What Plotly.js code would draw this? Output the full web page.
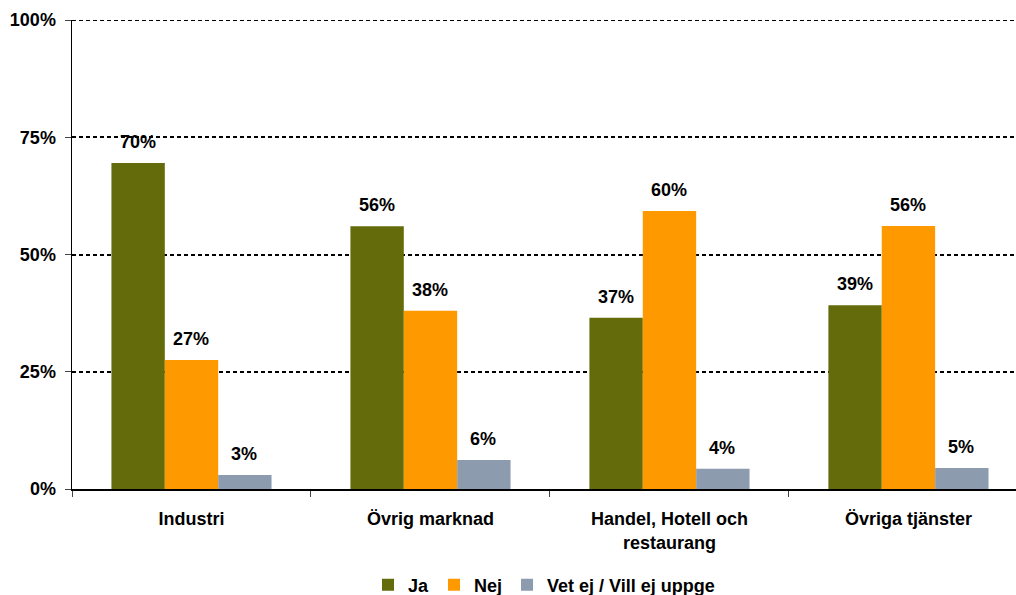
<!DOCTYPE html>
<html><head><meta charset="utf-8">
<script src="https://cdn.plot.ly/plotly-3.0.1.min.js"></script>
<style>html,body{margin:0;padding:0;background:#fff}#c{width:1016px;height:595px}</style>
</head><body><div id="c"></div>
<script>
const categories = ["Industri", "Övrig marknad", "Handel, Hotell och<br>restaurang", "Övriga tjänster"];
const seriesNames = ["Ja", "Nej", "Vet ej / Vill ej uppge"];
const ja  = [69.5, 56.0, 36.5, 39.2];
const nej = [27.5, 38.0, 59.3, 56.1];
const vet = [3.0, 6.2, 4.3, 4.5];
const labelsJa  = ["70%", "56%", "37%", "39%"];
const labelsNej = ["27%", "38%", "60%", "56%"];
const labelsVet = ["3%", "6%", "4%", "5%"];
const yTicks = [0, 25, 50, 75, 100];
const colors = ["#636B0A", "#FF9900", "#8C9CAE"];

const fam = "Liberation Sans, Arial, sans-serif";
const font = {family: fam, size: 18, color: "#000"};
const values = [ja, nej, vet];
const labels = [labelsJa, labelsNej, labelsVet];

const traces = values.map((v, i) => ({
  type: "bar", name: "<b>" + seriesNames[i] + "</b>", x: categories, y: v,
  marker: {color: colors[i], line: {width: 0}},
  hoverinfo: "skip"
}));

const barPx = 53;
const annotations = [];
values.forEach((v, i) => {
  v.forEach((val, j) => {
    annotations.push({
      x: categories[j], y: val, xref: "x", yref: "y",
      text: "<b>" + labels[i][j] + "</b>", showarrow: false,
      xshift: (i - 1) * barPx, yshift: 9, yanchor: "bottom",
      font: font
    });
  });
});

const layout = {
  width: 1016, height: 595,
  margin: {l: 72, r: 0, t: 20, b: 106, autoexpand: false},
  paper_bgcolor: "#fff", plot_bgcolor: "#fff",
  barmode: "group", bargap: 0.33, bargroupgap: 0,
  font: font,
  showlegend: true,
  legend: {orientation: "h", x: 0.5, xanchor: "center", y: -0.205, yanchor: "middle",
    font: {family: fam, size: 18, color: "#000"}, traceorder: "normal",
    itemwidth: 30, tracegroupgap: 0},
  xaxis: {
    type: "category", range: [-0.5, 3.45],
    showline: true, linecolor: "#000", linewidth: 1.5,
    ticks: "outside", ticklen: 6, tickwidth: 1, tickcolor: "#444", tickson: "boundaries",
    ticklabelstandoff: 13,
    showgrid: false, zeroline: false,
    tickfont: {family: fam, size: 18, color: "#000", weight: "bold"},
    fixedrange: true
  },
  yaxis: {
    range: [0, 100], tickvals: yTicks, ticktext: yTicks.map(t => "<b>" + t + "%</b>"),
    showline: true, linecolor: "#000", linewidth: 1.5,
    ticks: "outside", ticklen: 6, tickwidth: 1, tickcolor: "#444",
    ticklabelstandoff: 5,
    showgrid: true, gridcolor: "#000", gridwidth: 2, griddash: "4px,3px",
    zeroline: false,
    tickfont: {family: fam, size: 18, color: "#000"},
    fixedrange: true
  },
  shapes: [{type: "line", xref: "paper", yref: "y", x0: 0, x1: 1, y0: yTicks[yTicks.length - 1], y1: yTicks[yTicks.length - 1],
    line: {color: "#000", width: 2, dash: "4px,3px"}}],
  annotations: annotations
};

Plotly.newPlot("c", traces, layout, {displayModeBar: false, staticPlot: true});
</script>
</body></html>
